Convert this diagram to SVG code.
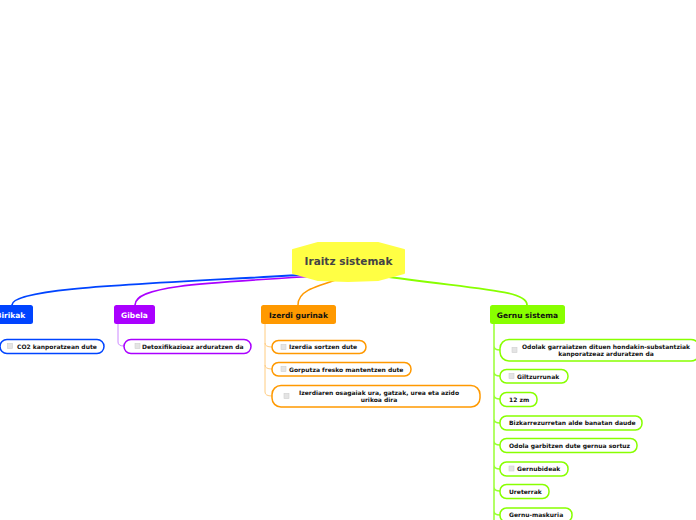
<svg xmlns="http://www.w3.org/2000/svg" width="696" height="520" viewBox="0 0 696 520">
<style>
text{font-family:"DejaVu Sans","Liberation Sans",sans-serif;font-weight:bold}
.main{font-size:7.5px}
.sub{font-size:6px;fill:#111}
.box{fill:#fff;stroke-width:1.5}
.chk{fill:#e4e4e4;stroke:#cfcfcf;stroke-width:0.6}
.conn{fill:none}
</style>
<rect width="696" height="520" fill="#fff"/>
<g id="connectors">
<path class="conn" d="M318,274 C150,284 12,287 12,305" stroke="#0044ff" stroke-width="1.8"/>
<path class="conn" d="M320,276 C200,283 135,286 135,305" stroke="#aa00ff" stroke-width="1.6"/>
<path class="conn" d="M342,278 C310,288 298,292 298,305" stroke="#ff9900" stroke-width="1.5"/>
<path class="conn" d="M375,275 C480,290 527,290 527,305" stroke="#88ff00" stroke-width="1.8"/>
<path class="conn" d="M118,324 V342 Q118,346 124,346" stroke="#cc88ff" stroke-width="1"/>
<path class="conn" d="M265,324 V392 Q265,396 272,396 M265,343 Q265,347 272,347 M265,365 Q265,369 272,369" stroke="#ffcc80" stroke-width="1"/>
<path class="conn" d="M494,324 V520 M494,346 Q494,350 500,350 M494,372 Q494,376 500,376 M494,395 Q494,399 500,399 M494,419 Q494,423 500,423 M494,441 Q494,445 500,445 M494,465 Q494,469 500,469 M494,487 Q494,491 500,491 M494,511 Q494,515 500,515" stroke="#99ff33" stroke-width="1.5"/>
</g>
<g id="central">
<polygon points="293,250 318,243 378,243 404,250 404,273 378,280 348,281 318,280 293,273" fill="#ffff44" stroke="#ffff44" stroke-width="2" stroke-linejoin="round"/>
<text x="348.5" y="265" text-anchor="middle" font-size="10.5" fill="#444">Iraitz sistemak</text>
</g>
<g id="birikak">
<rect x="-12" y="305" width="45" height="19" rx="2.5" fill="#0044ff"/>
<text class="main" x="10.5" y="317.5" text-anchor="middle" fill="#fff">Birikak</text>
</g>
<g id="birikak-1">
<rect class="box" x="0" y="339.5" width="104" height="14" rx="7" stroke="#0044ff"/>
<rect class="chk" x="7.5" y="343.5" width="5" height="5"/>
<text class="sub" x="17" y="348.5">CO2 kanporatzean dute</text>
</g>
<g id="gibela">
<rect x="114" y="305" width="41" height="19" rx="2.5" fill="#aa00ff"/>
<text class="main" x="134.5" y="317.5" text-anchor="middle" fill="#fff">Gibela</text>
</g>
<g id="gibela-1">
<rect class="box" x="124" y="339.5" width="127" height="14" rx="7" stroke="#aa00ff"/>
<rect class="chk" x="135" y="343.5" width="5" height="5"/>
<text class="sub" x="142" y="348.5">Detoxifikazioaz arduratzen da</text>
</g>
<g id="izerdi">
<rect x="261" y="305" width="75" height="19" rx="2.5" fill="#ff9900"/>
<text class="main" x="298.5" y="317.5" text-anchor="middle" fill="#111">Izerdi gurinak</text>
</g>
<g id="izerdi-1">
<rect class="box" x="272" y="340.5" width="94" height="13" rx="6.5" stroke="#ff9900"/>
<rect class="chk" x="281" y="344.5" width="5" height="5"/>
<text class="sub" x="289" y="349">Izerdia sortzen dute</text>
</g>
<g id="izerdi-2">
<rect class="box" x="272" y="362.5" width="139" height="13.5" rx="6.5" stroke="#ff9900"/>
<rect class="chk" x="281" y="366.5" width="5" height="5"/>
<text class="sub" x="289" y="371.5">Gorputza fresko mantentzen dute</text>
</g>
<g id="izerdi-3">
<rect class="box" x="272" y="385.5" width="208" height="21.5" rx="9" stroke="#ff9900"/>
<rect class="chk" x="284" y="393.5" width="5" height="5"/>
<text class="sub" x="379" y="394.5" text-anchor="middle">Izerdiaren osagaiak ura, gatzak, urea eta azido</text>
<text class="sub" x="379" y="402" text-anchor="middle">urikoa dira</text>
</g>
<g id="gernu">
<rect x="490" y="305" width="75" height="19" rx="2.5" fill="#88ff00"/>
<text class="main" x="527.5" y="317.5" text-anchor="middle" fill="#111">Gernu sistema</text>
</g>
<g id="gernu-1">
<rect class="box" x="500" y="339.5" width="200" height="21.5" rx="9" stroke="#88ff00"/>
<rect class="chk" x="512" y="347.5" width="5" height="5"/>
<text class="sub" x="606" y="348.5" text-anchor="middle">Odolak garraiatzen dituen hondakin-substantziak</text>
<text class="sub" x="606" y="356" text-anchor="middle">kanporatzeaz arduratzen da</text>
</g>
<g id="gernu-2">
<rect class="box" x="500" y="369.5" width="68" height="13.5" rx="6.5" stroke="#88ff00"/>
<rect class="chk" x="509" y="373.5" width="5" height="5"/>
<text class="sub" x="517" y="378.5">Giltzurrunak</text>
</g>
<g id="gernu-3">
<rect class="box" x="500" y="392.5" width="37" height="14" rx="6.5" stroke="#88ff00"/>
<text class="sub" x="509" y="401.5">12 zm</text>
</g>
<g id="gernu-4">
<rect class="box" x="500" y="416" width="142" height="14" rx="6.5" stroke="#88ff00"/>
<text class="sub" x="509" y="425">Bizkarrezurretan alde banatan daude</text>
</g>
<g id="gernu-5">
<rect class="box" x="500" y="438.5" width="137" height="14" rx="6.5" stroke="#88ff00"/>
<text class="sub" x="509" y="447.5">Odola garbitzen dute gernua sortuz</text>
</g>
<g id="gernu-6">
<rect class="box" x="500" y="462" width="68" height="14" rx="6.5" stroke="#88ff00"/>
<rect class="chk" x="509" y="466" width="5" height="5"/>
<text class="sub" x="517" y="471">Gernubideak</text>
</g>
<g id="gernu-7">
<rect class="box" x="500" y="484.5" width="49" height="14" rx="6.5" stroke="#88ff00"/>
<text class="sub" x="509" y="493.5">Ureterrak</text>
</g>
<g id="gernu-8">
<rect class="box" x="500" y="508" width="72" height="14" rx="6.5" stroke="#88ff00"/>
<text class="sub" x="509" y="517">Gernu-maskuria</text>
</g>
</svg>
